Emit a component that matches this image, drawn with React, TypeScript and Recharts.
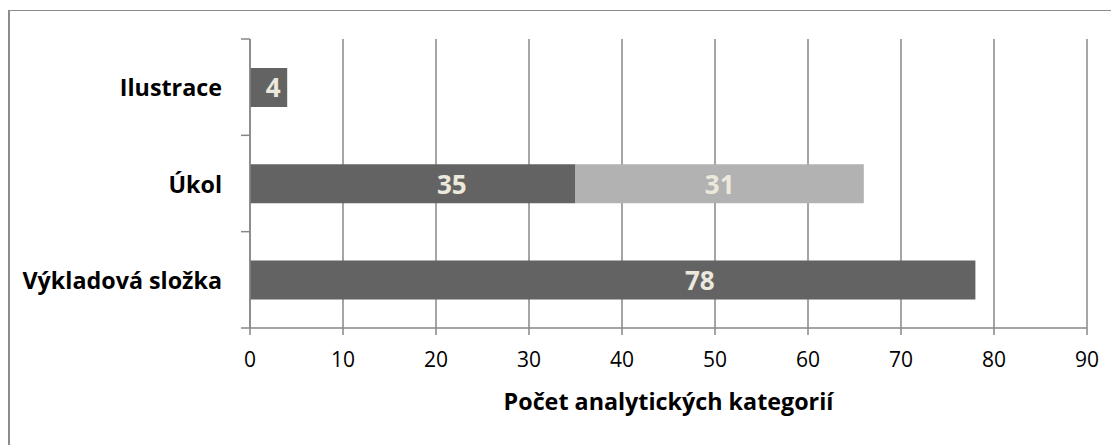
import React from 'react';
import { BarChart, Bar, XAxis, YAxis, CartesianGrid, LabelList } from 'recharts';

const categories = ['Ilustrace', 'Úkol', 'Výkladová složka'];
const series1 = [4, 35, 78];
const series2: (number | null)[] = [null, 31, null];
const xTicks = [0, 10, 20, 30, 40, 50, 60, 70, 80, 90];
const axisTitle = 'Počet analytických kategorií';

const data = categories.map((c, i) => ({ category: c, s1: series1[i], s2: series2[i] }));

const GRID = '#878787';
const FONT = '"Open Sans", sans-serif';

const CatTick = (props: any) => {
  const { x, y, payload, index } = props;
  const half = payload && payload.offset ? payload.offset : 0;
  const lx1 = x + 19;
  const lx2 = x + 28;
  return (
    <g>
      {index === 0 && <line x1={lx1} x2={lx2} y1={y - half} y2={y - half} stroke={GRID} strokeWidth={1.5} />}
      <line x1={lx1} x2={lx2} y1={y + half} y2={y + half} stroke={GRID} strokeWidth={1.5} />
      <text x={x} y={y} textAnchor="end" dominantBaseline="central" fontFamily={FONT} fontWeight={700} fontSize={23.3} fill="#000">
        {payload.value}
      </text>
    </g>
  );
};

const DarkLabel = (p: any) => {
  const { x, y, width, height, value } = p;
  if (value == null) return null;
  return (
    <text x={x + width * 0.62} y={y + height / 2} textAnchor="middle" dominantBaseline="central" fontFamily={FONT} fontWeight={700} fontSize={26} fill="#ece8dc">
      {value}
    </text>
  );
};

const LightLabel = (p: any) => {
  const { x, y, width, height, value } = p;
  if (value == null) return null;
  return (
    <text x={x + width / 2} y={y + height / 2} textAnchor="middle" dominantBaseline="central" fontFamily={FONT} fontWeight={700} fontSize={26} fill="#ece8dc">
      {value}
    </text>
  );
};

export default function App() {
  return (
    <div style={{ position: 'relative', width: 1111, height: 437 }}>
      <div style={{ position: 'absolute', left: 0, top: 2, width: 1111, height: 435, borderTop: '1.5px solid #8c8c8c', borderLeft: '2px solid #8c8c8c', boxSizing: 'border-box' }} />
      <div style={{ position: 'absolute', left: 0, top: 0 }}>
        <BarChart
          width={1111}
          height={437}
          data={data}
          layout="vertical"
          margin={{ top: 31, right: 32, bottom: 57, left: 0 }}
          barCategoryGap="30%"
          style={{ fontFamily: FONT }}
        >
          <CartesianGrid horizontal={false} vertical stroke={GRID} strokeWidth={1.5} />
          <XAxis
            type="number"
            domain={[0, 90]}
            ticks={xTicks}
            interval={0}
            height={60}
            tickSize={7}
            tickMargin={17}
            axisLine={{ stroke: GRID, strokeWidth: 1.5 }}
            tickLine={{ stroke: GRID, strokeWidth: 1.5 }}
            tick={{ fill: '#000', fontSize: 21, fontFamily: FONT }}
            label={{ value: axisTitle, position: 'bottom', offset: 5, fill: '#000', fontSize: 23.3, fontWeight: 700, fontFamily: FONT }}
          />
          <YAxis
            type="category"
            dataKey="category"
            width={242}
            tickSize={9}
            tickMargin={19}
            tickLine={false}
            axisLine={{ stroke: GRID, strokeWidth: 1.5 }}
            tick={<CatTick />}
            interval={0}
          />
          <Bar dataKey="s1" name="Série 1" stackId="a" fill="#636363" isAnimationActive={false}>
            <LabelList dataKey="s1" content={<DarkLabel />} />
          </Bar>
          <Bar dataKey="s2" name="Série 2" stackId="a" fill="#b2b2b2" isAnimationActive={false}>
            <LabelList dataKey="s2" content={<LightLabel />} />
          </Bar>
        </BarChart>
      </div>
    </div>
  );
}
